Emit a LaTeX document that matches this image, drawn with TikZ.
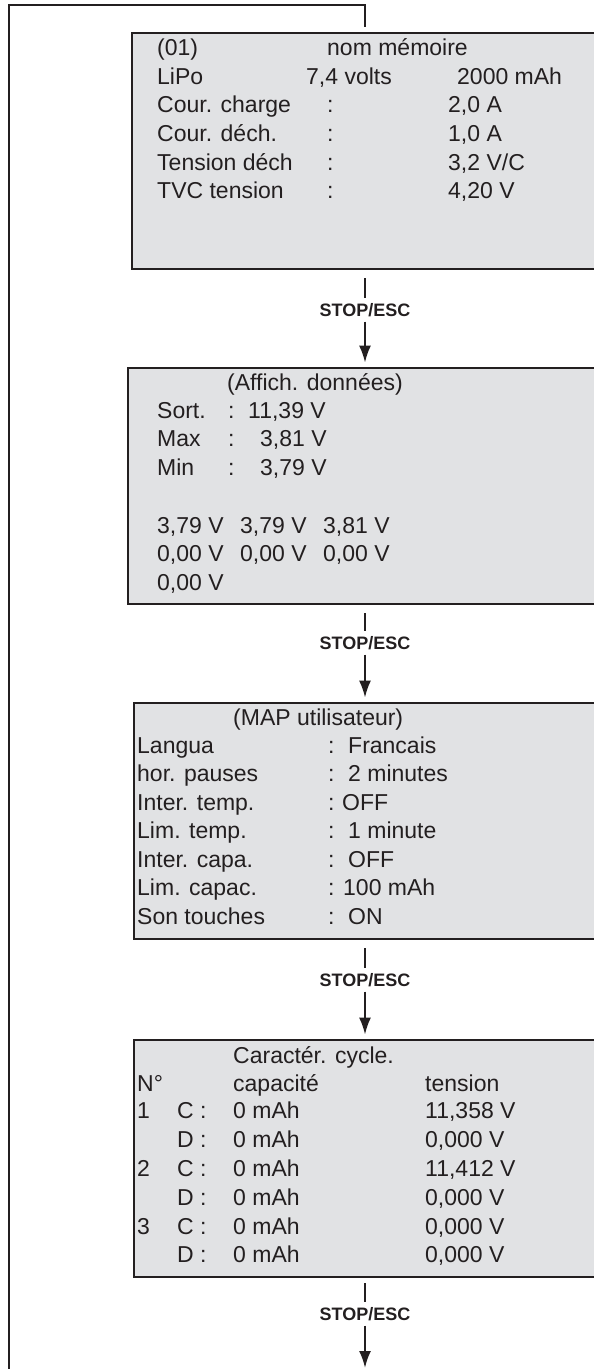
\documentclass[tikz,border=0pt]{standalone}
\usepackage{fontspec}
\setmainfont{Liberation Sans}
\usetikzlibrary{arrows.meta}
\definecolor{ink}{HTML}{231F20}
\definecolor{lcd}{HTML}{E1E2E4}
\tikzset{
  screen/.style={draw=ink, fill=lcd, line width=2.7pt, inner sep=0pt},
  txt/.style={anchor=base west, inner sep=0pt, text=ink, font=\fontsize{23}{27}\selectfont},
  key/.style={inner sep=0pt, text height=13pt, text depth=0pt, minimum height=23pt,
    text=ink, font=\fontsize{18}{20}\selectfont\bfseries},
  tip/.style={-{Latex[length=17pt,width=12pt]}},
}
\begin{document}
\begin{tikzpicture}[x=1pt, y=-1pt]
  \useasboundingbox (0,0) rectangle (594,1369);
  % the four screens
  \draw
    (365,151) node[screen, minimum width=466pt, minimum height=236pt] (s1){}
    (365,486) node[screen, minimum width=474pt, minimum height=236pt] (s2){}
    (365,821) node[screen, minimum width=462pt, minimum height=236pt] (s3){}
    (365,1158.5) node[screen, minimum width=462pt, minimum height=237pt] (s4){};
  % screen 1
  \draw
    (157,55) node[txt] (a1){(01)}
    (327,55) node[txt] (a2){nom mémoire}
    (157,84) node[txt] (a3){LiPo}
    (306,84) node[txt] (a4){7,4 volts}
    (457,84) node[txt] (a5){2000 mAh}
    (157,112) node[txt] (a6){Cour. charge}
    (327,112) node[txt] (a7){:}
    (448,112) node[txt] (a8){2,0 A}
    (157,141) node[txt] (a9){Cour. déch.}
    (327,141) node[txt] (a10){:}
    (448,141) node[txt] (a11){1,0 A}
    (157,170) node[txt] (a12){Tension déch}
    (327,170) node[txt] (a13){:}
    (448,170) node[txt] (a14){3,2 V/C}
    (157,198) node[txt] (a15){TVC tension}
    (327,198) node[txt] (a16){:}
    (448,198) node[txt] (a17){4,20 V};
  % screen 2
  \draw
    (227,390) node[txt] (b1){(Affich. données)}
    (157,418) node[txt] (b2){Sort.}
    (228,418) node[txt] (b3){:}
    (248,418) node[txt] (b4){11,39 V}
    (157,446) node[txt] (b5){Max}
    (228,446) node[txt] (b6){:}
    (260,446) node[txt] (b7){3,81 V}
    (157,475) node[txt] (b8){Min}
    (228,475) node[txt] (b9){:}
    (260,475) node[txt] (b10){3,79 V}
    (157,533) node[txt] (b11){3,79 V}
    (240,533) node[txt] (b12){3,79 V}
    (323,533) node[txt] (b13){3,81 V}
    (157,561) node[txt] (b14){0,00 V}
    (240,561) node[txt] (b15){0,00 V}
    (323,561) node[txt] (b16){0,00 V}
    (157,590) node[txt] (b17){0,00 V};
  % screen 3
  \draw
    (233,725) node[txt] (c1){(MAP utilisateur)}
    (137,753) node[txt] (c2){Langua}
    (328,753) node[txt] (c3){:}
    (348,753) node[txt] (c4){Francais}
    (137,781) node[txt] (c5){hor. pauses}
    (328,781) node[txt] (c6){:}
    (348,781) node[txt] (c7){2 minutes}
    (137,810) node[txt] (c8){Inter. temp.}
    (328,810) node[txt] (c9){:}
    (342,810) node[txt] (c10){OFF}
    (137,838) node[txt] (c11){Lim. temp.}
    (328,838) node[txt] (c12){:}
    (348,838) node[txt] (c13){1 minute}
    (137,867) node[txt] (c14){Inter. capa.}
    (328,867) node[txt] (c15){:}
    (348,867) node[txt] (c16){OFF}
    (137,895) node[txt] (c17){Lim. capac.}
    (328,895) node[txt] (c18){:}
    (343,895) node[txt] (c19){100 mAh}
    (137,924) node[txt] (c20){Son touches}
    (328,924) node[txt] (c21){:}
    (348,924) node[txt] (c22){ON};
  % screen 4
  \draw
    (233,1063) node[txt] (d1){Caractér. cycle.}
    (137,1091) node[txt] (d2){N°}
    (233,1091) node[txt] (d3){capacité}
    (425,1091) node[txt] (d4){tension}
    (137,1118) node[txt] (d5){1}
    (177,1118) node[txt] (d6){C :}
    (233,1118) node[txt] (d7){0 mAh}
    (425,1118) node[txt] (d8){11,358 V}
    (177,1147) node[txt] (d9){D :}
    (233,1147) node[txt] (d10){0 mAh}
    (425,1147) node[txt] (d11){0,000 V}
    (137,1176) node[txt] (d12){2}
    (177,1176) node[txt] (d13){C :}
    (233,1176) node[txt] (d14){0 mAh}
    (425,1176) node[txt] (d15){11,412 V}
    (177,1205) node[txt] (d16){D :}
    (233,1205) node[txt] (d17){0 mAh}
    (425,1205) node[txt] (d18){0,000 V}
    (137,1234) node[txt] (d19){3}
    (177,1234) node[txt] (d20){C :}
    (233,1234) node[txt] (d21){0 mAh}
    (425,1234) node[txt] (d22){0,000 V}
    (177,1262) node[txt] (d23){D :}
    (233,1262) node[txt] (d24){0 mAh}
    (425,1262) node[txt] (d25){0,000 V};
  % keys between the screens
  \draw
    (365,310) node[key] (k1){STOP/ESC}
    (365,643) node[key] (k2){STOP/ESC}
    (365,980) node[key] (k3){STOP/ESC}
    (365,1314) node[key] (k4){STOP/ESC};
  \coordinate (out) at (365,1369);
  \coordinate (back) at (9,1369);
  \coordinate (corner) at (9,5);
  \begin{scope}[draw=ink, line width=2.2pt]
    \draw[shorten <=8pt] (s1) to (k1);
    \draw[tip, shorten >=4pt] (k1) to (s2);
    \draw[shorten <=8pt] (s2) to (k2);
    \draw[tip, shorten >=4pt] (k2) to (s3);
    \draw[shorten <=8pt] (s3) to (k3);
    \draw[tip, shorten >=4pt] (k3) to (s4);
    \draw[shorten <=5pt] (s4) to (k4);
    \draw[tip, shorten >=1pt] (k4) to (out);
    \draw[line width=2.6pt, shorten >=5pt] (back) -- (corner) -| (s1.north);
  \end{scope}
\end{tikzpicture}
\end{document}
